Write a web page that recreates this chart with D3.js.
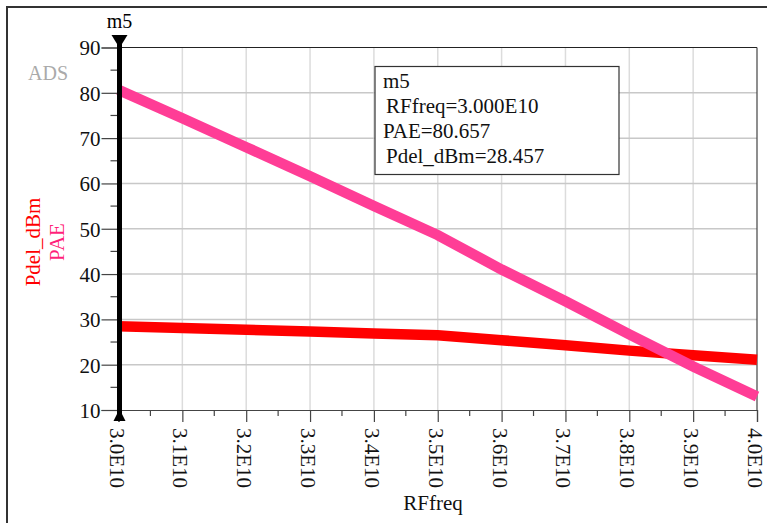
<!DOCTYPE html>
<html><head><meta charset="utf-8">
<script src="https://cdn.jsdelivr.net/npm/d3@7"></script>
<style>body{margin:0;background:#fff}svg{display:block}text{font-family:"Liberation Serif","Times New Roman",serif}</style>
</head><body>
<svg id="c" width="767" height="523"></svg>
<script>
const freqs = [3.0e10,3.1e10,3.2e10,3.3e10,3.4e10,3.5e10,3.6e10,3.7e10,3.8e10,3.9e10,4.0e10];
const pae = [80.657,74.4,68.0,61.6,55.0,48.6,41.0,34.0,26.7,19.6,13.0];
const pdel = [28.457,28.1,27.7,27.3,26.9,26.5,25.4,24.3,23.1,22.1,21.1];
const xTicks = [3.0e10,3.1e10,3.2e10,3.3e10,3.4e10,3.5e10,3.6e10,3.7e10,3.8e10,3.9e10,4.0e10];
const xTickLabels = ["3.0E10","3.1E10","3.2E10","3.3E10","3.4E10","3.5E10","3.6E10","3.7E10","3.8E10","3.9E10","4.0E10"];
const yTicks = [10,20,30,40,50,60,70,80,90];
const markerLines = ["m5","RFfreq=3.000E10","PAE=80.657","Pdel_dBm=28.457"];

const svg = d3.select("#c");
const L=118.5, R=757, T=47.5, B=410;
const x = d3.scaleLinear().domain([3.0e10,4.0e10]).range([L,R]);
const y = d3.scaleLinear().domain([10,90]).range([B,T]);

// outer border
svg.append("rect").attr("x",7).attr("y",7).attr("width",790).attr("height",540)
  .attr("fill","none").attr("stroke","#333").attr("stroke-width",2);

// grid
const g = svg.append("g");
g.selectAll(".vg").data(xTicks.slice(1,-1)).join("line")
  .attr("x1",d=>x(d)).attr("x2",d=>x(d)).attr("y1",T).attr("y2",B)
  .attr("stroke","#dcdcdc").attr("stroke-width",1.5);
g.selectAll(".hg").data(yTicks.slice(1,-1)).join("line")
  .attr("x1",L).attr("x2",R).attr("y1",d=>y(d)).attr("y2",d=>y(d))
  .attr("stroke","#c8c8c8").attr("stroke-width",1.5);

// frame top/right
svg.append("line").attr("x1",L).attr("x2",R).attr("y1",T).attr("y2",T).attr("stroke","#222").attr("stroke-width",1.2);
svg.append("line").attr("x1",R).attr("x2",R).attr("y1",T).attr("y2",B).attr("stroke","#444").attr("stroke-width",1.2);

// x axis
const minorX = d3.range(0,21).map(i=>3.0e10+i*0.05e10);
const xAxis = d3.axisBottom(x).tickValues(xTicks).tickSize(12).tickFormat((d,i)=>xTickLabels[i]);
const xa = svg.append("g").attr("transform",`translate(0,${B})`).call(xAxis);
xa.select(".domain").attr("stroke","#444").attr("stroke-width",1.2);
xa.selectAll(".tick line").attr("stroke","#444").attr("stroke-width",1.2);
xa.selectAll(".tick text").attr("font-size",21).attr("fill","#111")
  .attr("text-anchor","start").attr("dy","0")
  .attr("transform","translate(-9.5,18) rotate(90)").attr("x",0).attr("y",0);
svg.append("g").selectAll("line").data(minorX.filter((d,i)=>i%2===1)).join("line")
  .attr("x1",d=>x(d)).attr("x2",d=>x(d)).attr("y1",B).attr("y2",B+6)
  .attr("stroke","#444").attr("stroke-width",1.2);

// y axis
const yAxis = d3.axisLeft(y).tickValues(yTicks).tickSize(17).tickFormat(d3.format("d"));
const ya = svg.append("g").attr("transform",`translate(${L},0)`).call(yAxis);
ya.select(".domain").attr("stroke","#444");
ya.selectAll(".tick line").attr("stroke","#444").attr("stroke-width",1.2);
ya.selectAll(".tick text").attr("font-size",21).attr("fill","#111").attr("x",-18).attr("dy","0.35em");
svg.append("g").selectAll("line").data(d3.range(15,90,10)).join("line")
  .attr("x1",L-8).attr("x2",L).attr("y1",d=>y(d)).attr("y2",d=>y(d))
  .attr("stroke","#444").attr("stroke-width",1.2);

// lines
const line = d3.line().x((d,i)=>x(freqs[i])).y(d=>y(d));
svg.append("path").datum(pdel).attr("d",line).attr("fill","none")
  .attr("stroke","#ff0000").attr("stroke-width",10.5);
svg.append("path").datum(pae).attr("d",line).attr("fill","none")
  .attr("stroke","#ff3d96").attr("stroke-width",10.5);

// marker
const mx = x(3.0e10)+1;
svg.append("line").attr("x1",mx).attr("x2",mx).attr("y1",40).attr("y2",416)
  .attr("stroke","#000").attr("stroke-width",5);
svg.append("path").attr("d",`M${mx-8},35 L${mx+8},35 L${mx},48 Z`).attr("fill","#000");
svg.append("path").attr("d",`M${mx-6},421 L${mx+6},421 L${mx},409 Z`).attr("fill","#000");
svg.append("text").attr("x",mx).attr("y",28).attr("text-anchor","middle").attr("font-size",20).text("m5");

// labels
svg.append("text").attr("x",28).attr("y",80).attr("font-size",20).attr("fill","#aaaaaa").text("ADS");
svg.append("text").attr("x",433).attr("y",510).attr("text-anchor","middle").attr("font-size",21).attr("fill","#111").text("RFfreq");
svg.append("text").attr("transform","translate(40,242) rotate(-90)").attr("text-anchor","middle")
  .attr("font-size",21).attr("fill","#ff0000").text("Pdel_dBm");
svg.append("text").attr("transform","translate(64,242) rotate(-90)").attr("text-anchor","middle")
  .attr("font-size",21).attr("fill","#ff1f7a").text("PAE");

// marker box
svg.append("rect").attr("x",375).attr("y",66.5).attr("width",244).attr("height",108)
  .attr("fill","#fff").attr("stroke","#333").attr("stroke-width",1.2);
svg.append("g").selectAll("text").data(markerLines).join("text")
  .attr("x",(d,i)=>i===1||i===3?386:383).attr("y",(d,i)=>88+i*25)
  .attr("font-size",21).attr("fill","#111").text(d=>d);
</script>
</body></html>
